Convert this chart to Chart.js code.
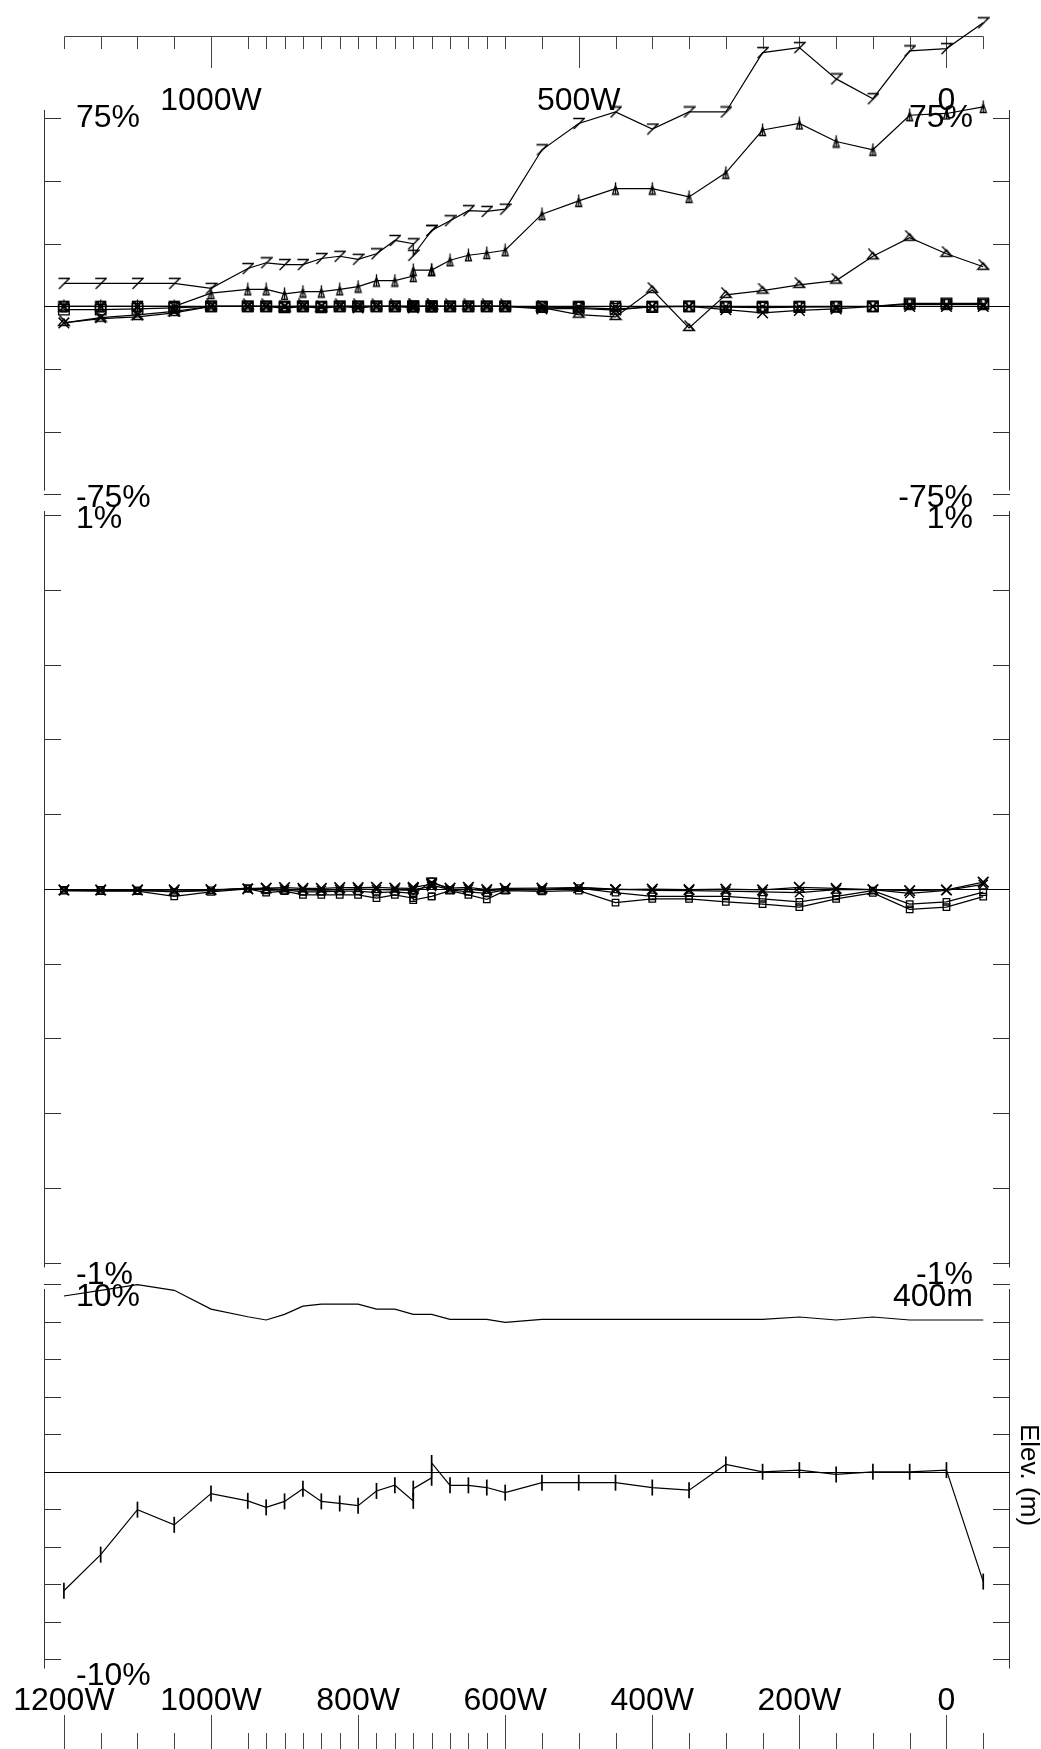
<!DOCTYPE html>
<html>
<head>
<meta charset="utf-8">
<script src="https://cdn.jsdelivr.net/npm/chart.js@4.4.1/dist/chart.umd.min.js"></script>
<style>
  html, body { margin: 0; padding: 0; background: #fff; overflow: hidden; }
  #wrap { position: relative; width: 1041px; height: 1749px; }
</style>
</head>
<body>
<div id="wrap"><canvas id="profile" width="1041" height="1749"></canvas></div>
<script>
// stations along the line (distance W of 0, last one is 50E); 725W and 700W were read twice
const stations = [1200, 1150, 1100, 1050, 1000, 950, 925, 900, 875, 850, 825, 800, 775, 750,
  725, 725, 700, 700, 675, 650, 625, 600, 550, 500, 450, 400, 350, 300, 250, 200, 150, 100, 50, 0, -50];

// top panel (%)
const sevenPct = [9.2, 9.2, 9.2, 9.2, 7.2, 15.1, 17.4, 16.7, 16.7, 19.1, 20.0, 18.8, 21.0, 26.3,
  25.0, 20.4, 30.3, 30.3, 34.2, 38.2, 37.9, 38.8, 62.5, 73.0, 77.6, 70.8, 77.6, 77.6, 101.3, 103.3, 90.8, 82.9, 102.0, 102.9, 113.2];
const barTriPct = [0, 0, 0, 0, 5.3, 6.8, 6.8, 5.0, 5.9, 5.9, 6.8, 7.9, 10.3, 10.3,
  12.1, 14.5, 14.5, 14.5, 18.4, 20.4, 21.3, 22.4, 36.8, 42.1, 47.0, 47.0, 43.7, 53.3, 70.4, 73.0, 65.8, 62.5, 76.3, 77.0, 79.6];
const hookTriPct = [-6.6, -4.9, -4.2, -2.6, 0, 0, 0, -0.8, 0, -0.8, 0, 0, 0, 0,
  0, 0, 0, 0, 0, 0, 0, 0, -0.5, -3.3, -4.2, 6.6, -8.6, 4.6, 6.3, 8.6, 10.3, 20.0, 27.4, 21.0, 15.8];
const crossPct1 = [-6.6, -4.5, -3.4, -2.0, 0, 0, 0, 0, 0, 0, 0, -0.6, 0, 0,
  -0.6, 0, 0, 0, 0, 0, 0, 0, -1.0, -0.8, -1.5, 0, 0, -1.3, -2.6, -1.6, -1.0, 0, 0, 0, 0];
const boxXPct1 = [0, 0, 0, 0, 0, 0, 0, 0, 0, 0, 0, 0, 0, 0,
  0, 0, 0, 0, 0, 0, 0, 0, 0, 0, 0, 0, 0, 0, 0, 0, 0, 0, 0.8, 0.8, 0.8];
const boxPct1 = [-1.3, -1.3, -1.0, -0.6, 0, 0, 0, -0.4, 0, -0.4, 0, 0, 0, 0,
  0, 0, 0, 0, 0, 0, 0, 0, -0.3, -0.5, -1.0, -0.3, 0, -0.3, -0.5, -0.3, -0.2, 0, 1.2, 1.2, 1.2];

// middle panel (%)
const crossPct2a = [-0.003, -0.003, -0.003, -0.003, -0.002, 0, 0.002, 0.003, 0.001, 0.001, 0.003, 0.003, 0.004, 0.002,
  0.001, 0.004, 0.012, 0.016, 0.002, 0.004, -0.002, 0.001, 0.002, 0.003, -0.002, -0.001, -0.002, -0.001, -0.003, 0.004, 0.001, -0.002, -0.005, -0.003, 0.018];
const crossPct2b = [-0.005, -0.005, -0.004, -0.006, -0.004, 0.001, 0.001, -0.002, -0.003, -0.004, -0.002, -0.001, -0.002, -0.003,
  -0.004, -0.002, 0.006, 0.010, -0.002, -0.001, -0.006, -0.001, -0.002, 0.004, -0.001, -0.004, -0.005, -0.006, -0.008, -0.010, -0.002, -0.002, -0.012, -0.004, 0.012];
const boxPct2a = [-0.005, -0.006, -0.006, -0.020, -0.008, 0, -0.010, -0.006, -0.016, -0.016, -0.016, -0.016, -0.025, -0.016,
  -0.025, -0.030, -0.020, -0.020, -0.005, -0.016, -0.028, -0.005, -0.007, -0.005, -0.037, -0.027, -0.027, -0.035, -0.041, -0.049, -0.027, -0.011, -0.055, -0.049, -0.021];
const boxPct2b = [-0.003, -0.003, -0.004, -0.008, -0.004, 0.002, -0.004, -0.003, -0.008, -0.008, -0.006, -0.006, -0.010, -0.008,
  -0.012, -0.015, 0.020, 0.020, -0.003, -0.008, -0.012, -0.003, -0.003, 0.002, -0.010, -0.020, -0.020, -0.020, -0.027, -0.035, -0.020, -0.005, -0.041, -0.035, -0.009];

// bottom panel (% and elevation in m)
const tickPct3 = [-6.35, -4.42, -2.02, -2.83, -1.16, -1.55, -1.9, -1.58, -0.9, -1.58, -1.69, -1.81, -1.02, -0.72,
  -1.55, -0.9, -0.32, 0.47, -0.72, -0.72, -0.84, -1.11, -0.58, -0.58, -0.58, -0.84, -0.98, 0.39, 0, 0.09, -0.14, 0, 0, 0.09, -5.86];
const elevM = [387.6, 393.7, 399.7, 393.7, 373.6, 365.5, 362, 368, 376.8, 379, 379, 379, 373.6, 373.6,
  368, 368, 368, 368, 362.6, 362.6, 362.6, 359.4, 362.6, 362.6, 362.6, 362.6, 362.6, 362.6, 362.6, 365.2, 362, 365.2, 362, 362, 362];

// axes
const topTickDist = [1000, 500, 0];
const topTickLabels = ['1000W', '500W', '0'];
const bottomTickDist = [1200, 1000, 800, 600, 400, 200, 0];
const bottomTickLabels = ['1200W', '1000W', '800W', '600W', '400W', '200W', '0'];
const p1Ticks = [75, 50, 25, 0, -25, -50, -75];
const p1Labels = ['75%', '-75%'];
const p2Ticks = [1, 0.8, 0.6, 0.4, 0.2, 0, -0.2, -0.4, -0.6, -0.8, -1];
const p2Labels = ['1%', '-1%'];
const p3Ticks = [10, 8, 6, 4, 2, 0, -2, -4, -6, -8, -10];
const p3Labels = ['10%', '-10%'];
const elevRange = [0, 400];
const elevLabel = '400m';

// page layout (pixels)
const W = 1041, H = 1749;
const BOX_LEFT = 44, BOX_RIGHT = 1010, TICK_LEN = 17;
const BOX_DIST = [1215, -74];   // distances sitting on the box edges
const panels = [
  { id: 'y1', top: 110, bottom: 490, ticks: p1Ticks, left: p1Labels, right: p1Labels },
  { id: 'y2', top: 511, bottom: 1267, ticks: p2Ticks, left: p2Labels, right: p2Labels },
  { id: 'y3', top: 1289, bottom: 1668, ticks: p3Ticks, left: p3Labels, right: [elevLabel] }
];
const FONT = "32px 'Liberation Sans', Arial, sans-serif";

// extend a value range that spans [pxA, pxB] to the whole canvas
function fullRange(pxA, pxB, vA, vB, size) {
  const k = (vB - vA) / (pxB - pxA);
  return { a: vA - pxA * k, b: vA + (size - pxA) * k };
}

const xr = fullRange(BOX_LEFT, BOX_RIGHT, -BOX_DIST[0], -BOX_DIST[1], W);
const yScales = {};
panels.forEach(p => {
  const t = p.ticks;
  const r = fullRange(p.top, p.bottom, t[0], t[t.length - 1], H);
  yScales[p.id] = { type: 'linear', display: false, max: r.a, min: r.b };
});
const er = fullRange(panels[2].top, panels[2].bottom, elevRange[1], elevRange[0], H);
yScales.yElev = { type: 'linear', display: false, max: er.a, min: er.b };

function marker(w, h, lw, draw) {
  const c = document.createElement('canvas');
  c.width = w; c.height = h;
  const g = c.getContext('2d');
  g.strokeStyle = '#000';
  g.lineWidth = lw;
  g.beginPath();
  draw(g);
  g.stroke();
  return c;
}
const sevenMark = marker(13, 13, 1.4, g => { g.moveTo(1, 1.5); g.lineTo(12, 1.5); g.lineTo(1.5, 12); });
const barTriMark = marker(9, 14, 1.3, g => {
  g.moveTo(4.5, 3.5); g.lineTo(1.5, 12.5); g.lineTo(7.5, 12.5); g.closePath();
  g.moveTo(4.5, 0.5); g.lineTo(4.5, 12.5);
});
const hookTriMark = marker(14, 16, 1.3, g => {
  g.moveTo(7, 4); g.lineTo(1.5, 10.5); g.lineTo(12.5, 10.5); g.closePath();
  g.moveTo(2.5, 0.5); g.lineTo(12, 10.5);
});
const boxXMark = marker(13, 13, 1.4, g => {
  g.rect(1.5, 1.5, 10, 10);
  g.moveTo(1.5, 1.5); g.lineTo(11.5, 11.5);
  g.moveTo(11.5, 1.5); g.lineTo(1.5, 11.5);
  g.moveTo(4.5, 1.5); g.lineTo(4.5, 11.5);
  g.moveTo(8.5, 1.5); g.lineTo(8.5, 11.5);
});

function series(vals, yAxisID, extra) {
  return Object.assign({
    data: stations.map((d, i) => ({ x: -d, y: vals[i] })),
    xAxisID: 'x', yAxisID: yAxisID,
    borderColor: '#000', borderWidth: 1.2, fill: false, tension: 0, clip: false,
    pointBorderColor: '#000', pointBackgroundColor: 'rgba(0,0,0,0)', pointBorderWidth: 1.3
  }, extra);
}

const datasets = [
  series(sevenPct, 'y1', { pointStyle: sevenMark, pointRadius: 5 }),
  series(barTriPct, 'y1', { pointStyle: barTriMark, pointRadius: 5 }),
  series(hookTriPct, 'y1', { pointStyle: hookTriMark, pointRadius: 5 }),
  series(crossPct1, 'y1', { pointStyle: 'crossRot', pointRadius: 7.5, pointBorderWidth: 1.5 }),
  series(boxXPct1, 'y1', { pointStyle: boxXMark, pointRadius: 5 }),
  series(boxPct1, 'y1', { pointStyle: 'rect', pointRadius: 7.5 }),
  series(crossPct2a, 'y2', { pointStyle: 'crossRot', pointRadius: 7.5, pointBorderWidth: 1.7 }),
  series(crossPct2b, 'y2', { pointStyle: 'crossRot', pointRadius: 6.5, pointBorderWidth: 1.4 }),
  series(boxPct2a, 'y2', { pointStyle: 'rect', pointRadius: 4.6 }),
  series(boxPct2b, 'y2', { pointStyle: 'rect', pointRadius: 4.6 }),
  series(tickPct3, 'y3', { pointStyle: 'line', pointRotation: 90, pointRadius: 8, pointBorderWidth: 1.7 }),
  series(elevM, 'yElev', { pointRadius: 0 })
];

// brackets, zero lines, station ticks and all the text
const framePlugin = {
  id: 'frame',
  beforeDatasetsDraw(chart) {
    const ctx = chart.ctx;
    const xs = chart.scales.x;
    ctx.save();
    ctx.lineWidth = 1;
    panels.forEach(p => {
      const ys = chart.scales[p.id];
      ctx.strokeStyle = '#333';
      ctx.beginPath();
      ctx.moveTo(BOX_LEFT + 0.5, p.top); ctx.lineTo(BOX_LEFT + 0.5, p.bottom + 0.5);
      ctx.moveTo(BOX_RIGHT - 0.5, p.top); ctx.lineTo(BOX_RIGHT - 0.5, p.bottom + 0.5);
      p.ticks.forEach(t => {
        const y = Math.round(ys.getPixelForValue(t)) + 0.5;
        ctx.moveTo(BOX_LEFT, y); ctx.lineTo(BOX_LEFT + TICK_LEN, y);
        ctx.moveTo(BOX_RIGHT, y); ctx.lineTo(BOX_RIGHT - TICK_LEN, y);
      });
      ctx.stroke();
      // zero line across the panel
      const y0 = Math.round(ys.getPixelForValue(0)) + 0.5;
      ctx.strokeStyle = '#000';
      ctx.beginPath();
      ctx.moveTo(BOX_LEFT, y0); ctx.lineTo(BOX_RIGHT, y0);
      ctx.stroke();
    });

    // station ticks on top and bottom
    const uniq = Array.from(new Set(stations));
    const px = d => Math.round(xs.getPixelForValue(-d)) + 0.5;
    ctx.strokeStyle = '#444';
    ctx.beginPath();
    ctx.moveTo(px(uniq[0]), 36.5); ctx.lineTo(px(uniq[uniq.length - 1]), 36.5);
    uniq.forEach(d => {
      const x = px(d);
      const topLen = topTickDist.includes(d) ? 68 : 49;
      ctx.moveTo(x, 36.5); ctx.lineTo(x, topLen);
      const botStart = bottomTickDist.includes(d) ? 1715 : 1733;
      ctx.moveTo(x, botStart); ctx.lineTo(x, H);
    });
    ctx.stroke();
    ctx.restore();
  },
  afterDatasetsDraw(chart) {
    const ctx = chart.ctx;
    const xs = chart.scales.x;
    ctx.save();
    ctx.fillStyle = '#000';
    ctx.font = FONT;
    ctx.textBaseline = 'alphabetic';

    ctx.textAlign = 'center';
    topTickDist.forEach((d, i) => ctx.fillText(topTickLabels[i], xs.getPixelForValue(-d), 110));
    bottomTickDist.forEach((d, i) => ctx.fillText(bottomTickLabels[i], xs.getPixelForValue(-d), 1710));

    panels.forEach(p => {
      ctx.textAlign = 'left';
      ctx.fillText(p.left[0], 76, p.top + 17);
      ctx.fillText(p.left[1], 76, p.bottom + 17);
      ctx.textAlign = 'right';
      ctx.fillText(p.right[0], 973, p.top + 17);
      if (p.right[1]) ctx.fillText(p.right[1], 973, p.bottom + 17);
    });

    ctx.translate(1028, 1475);
    ctx.rotate(Math.PI / 2);
    ctx.font = "26px 'Liberation Sans', Arial, sans-serif";
    ctx.textAlign = 'center';
    ctx.textBaseline = 'middle';
    ctx.fillText('Elev. (m)', 0, 0);
    ctx.restore();
  }
};

const allScales = Object.assign({
  x: { type: 'linear', display: false, min: xr.a, max: xr.b }
}, yScales);

new Chart(document.getElementById('profile'), {
  type: 'line',
  data: { datasets: datasets },
  options: {
    responsive: false,
    animation: false,
    events: [],
    layout: { padding: 0 },
    plugins: { legend: { display: false }, title: { display: false }, tooltip: { enabled: false } },
    scales: allScales
  },
  plugins: [framePlugin]
});
</script>
</body>
</html>
